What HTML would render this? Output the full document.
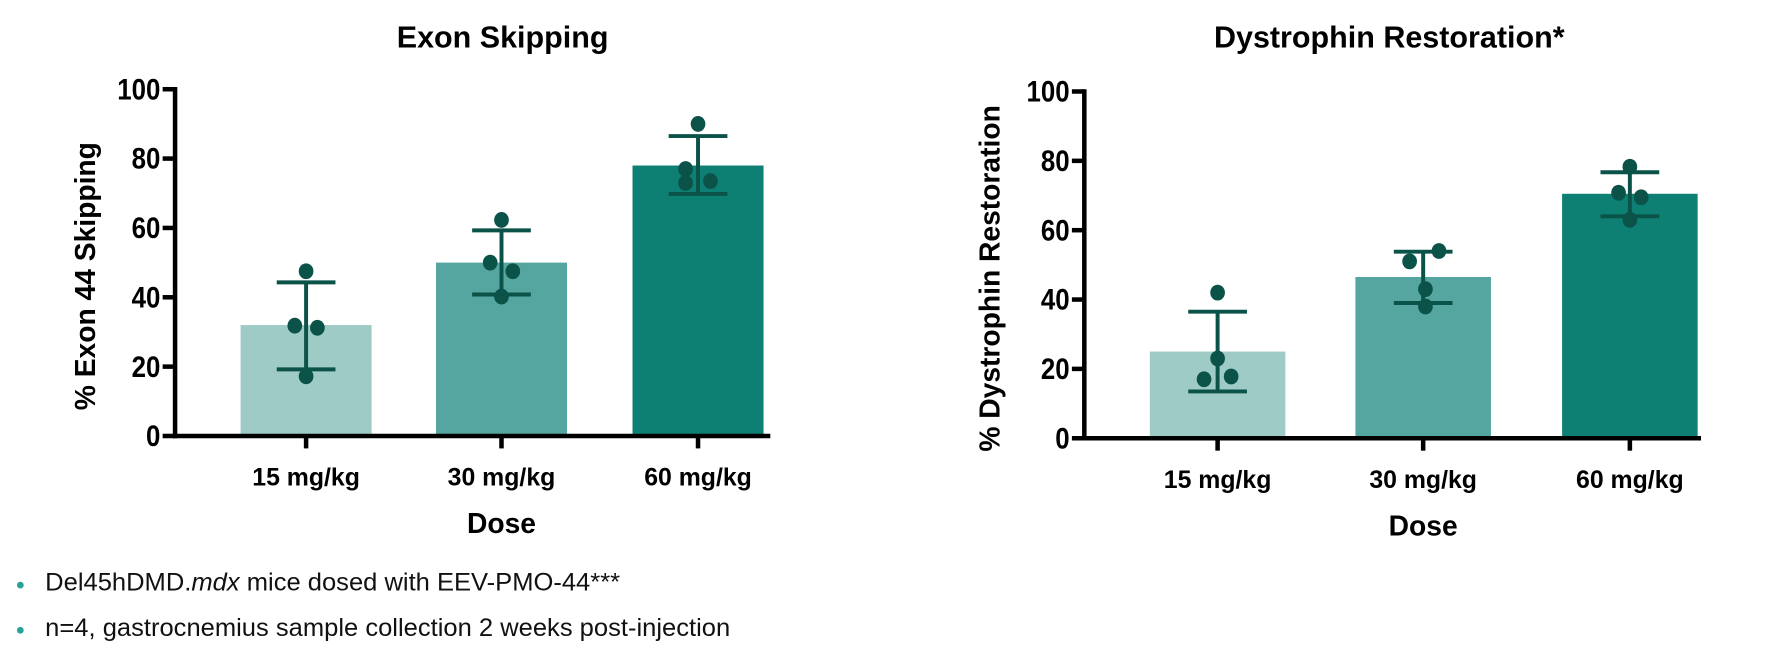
<!DOCTYPE html>
<html><head><meta charset="utf-8"><style>
body{margin:0;background:#fff;width:1771px;height:662px;overflow:hidden;font-family:"Liberation Sans",sans-serif}
#wrap{position:absolute;left:0;top:0;width:1568px;height:586px;transform:scale(1.1295);transform-origin:0 0}
svg{position:absolute;left:0;top:0}
.note{position:absolute;left:40px;font-size:22.5px;color:#111;white-space:nowrap;transform:scaleX(1.005);transform-origin:left}
.dot{position:absolute;left:15px;width:6px;height:6px;border-radius:50%;background:#27a39a}
</style></head><body>
<div id="wrap">
<svg id="chart" width="1568" height="586"></svg>
<div class="dot" style="top:515px"></div>
<div class="note" style="top:503px">Del45hDMD.<i>mdx</i> mice dosed with EEV-PMO-44***</div>
<div class="dot" style="top:555px"></div>
<div class="note" style="top:543px">n=4, gastrocnemius sample collection 2 weeks post-injection</div>
</div>
<script>
const categories=["15 mg/kg","30 mg/kg","60 mg/kg"];
const yTicks=[0,20,40,60,80,100];
const exonMeans=[32,50,78];
const exonHi=[44.3,59.3,86.5];
const exonLo=[19.2,40.8,69.8];
const exonPoints=[[47.5,31.8,31.2,17.2],[62.3,50,47.5,40.2],[90,77,73,73.5]];
const dysMeans=[25,46.5,70.5];
const dysHi=[36.5,53.8,76.7];
const dysLo=[13.5,39,64];
const dysPoints=[[42,23,17,17.8],[54,51,43,38],[78.3,70.8,69.5,63]];
const jitterL=[[0,-10,10,0],[0,-10,10,0],[0,-11,-11,11]];
const jitterR=[[0,0,-12,12],[14,-12,2,2],[0,-10,10,0]];
const colors=["#9fcbc6","#55a6a0","#0e7f73"];
const ink="#0b5249";
const svg=document.getElementById('chart');
const NS="http://www.w3.org/2000/svg";
function mk(tag,attrs,parent){const e=document.createElementNS(NS,tag);for(const k in attrs)e.setAttribute(k,attrs[k]);(parent||svg).appendChild(e);return e;}
function txt(x,y,s,size,anchor,rot){const t=mk('text',{x:x,y:y,'font-size':size,'font-weight':'bold','text-anchor':anchor,'font-family':'Liberation Sans, sans-serif',fill:'#000'});if(rot)t.setAttribute('transform',rot);t.textContent=s;return t;}
function chart(o){
  const y=v=>o.y0-(o.y0-o.y100)*v/100;
  const tt=txt(o.titleX,42,o.title,27,'middle');
  
  
  categories.forEach((c,i)=>{
    const cx=o.cx[i];
    const b=mk('rect',{x:cx-o.bw/2,y:y(o.means[i]),width:o.bw,height:o.y0-y(o.means[i]),fill:colors[i]});
    
    
    mk('line',{x1:cx,x2:cx,y1:y(o.hi[i]),y2:y(o.lo[i]),stroke:ink,'stroke-width':3.5});
    mk('line',{x1:cx-26,x2:cx+26,y1:y(o.hi[i]),y2:y(o.hi[i]),stroke:ink,'stroke-width':3.5});
    mk('line',{x1:cx-26,x2:cx+26,y1:y(o.lo[i]),y2:y(o.lo[i]),stroke:ink,'stroke-width':3.5});
    o.pts[i].forEach((v,j)=>{const p=mk('ellipse',{cx:cx+o.jit[i][j],cy:y(v),rx:6.5,ry:7,fill:ink});
      
      });
    mk('line',{x1:cx,x2:cx,y1:o.y0,y2:o.y0+11,stroke:'#000','stroke-width':4});
    const l=txt(cx,o.y0+44,c,22,'middle');
    
    
  });
  mk('line',{x1:o.ax,x2:o.ax,y1:o.y100-2,y2:o.y0+2,stroke:'#000','stroke-width':4});
  mk('line',{x1:o.ax-2,x2:o.xEnd,y1:o.y0,y2:o.y0,stroke:'#000','stroke-width':4});
  yTicks.forEach(v=>{mk('line',{x1:o.ax-11,x2:o.ax,y1:y(v),y2:y(v),stroke:'#000','stroke-width':4});
    const t=txt(o.ax-13,y(v)+9,String(v),26,'end');t.setAttribute('transform','translate('+(o.ax-13)+',0) scale(0.88,1) translate('+(-(o.ax-13))+',0)');
    
    });
  const xt=txt(o.cx[1],o.y0+86,'Dose',25,'middle');
  
  
  const yy=(o.y0+o.y100)/2+12;
  const yt=txt(o.ylx,yy,o.ylabel,25,'middle','rotate(-90 '+o.ylx+' '+yy+')');
  
  
}
chart({title:'Exon Skipping',titleX:445,ax:155,xEnd:682,y0:386,y100:79,cx:[271,444,618],bw:116,means:exonMeans,hi:exonHi,lo:exonLo,pts:exonPoints,jit:jitterL,ylabel:'% Exon 44 Skipping',ylx:84});
chart({title:'Dystrophin Restoration*',titleX:1230,ax:960,xEnd:1506,y0:388,y100:81,cx:[1078,1260,1443],bw:120,means:dysMeans,hi:dysHi,lo:dysLo,pts:dysPoints,jit:jitterR,ylabel:'% Dystrophin Restoration',ylx:885});
</script>
</body></html>
